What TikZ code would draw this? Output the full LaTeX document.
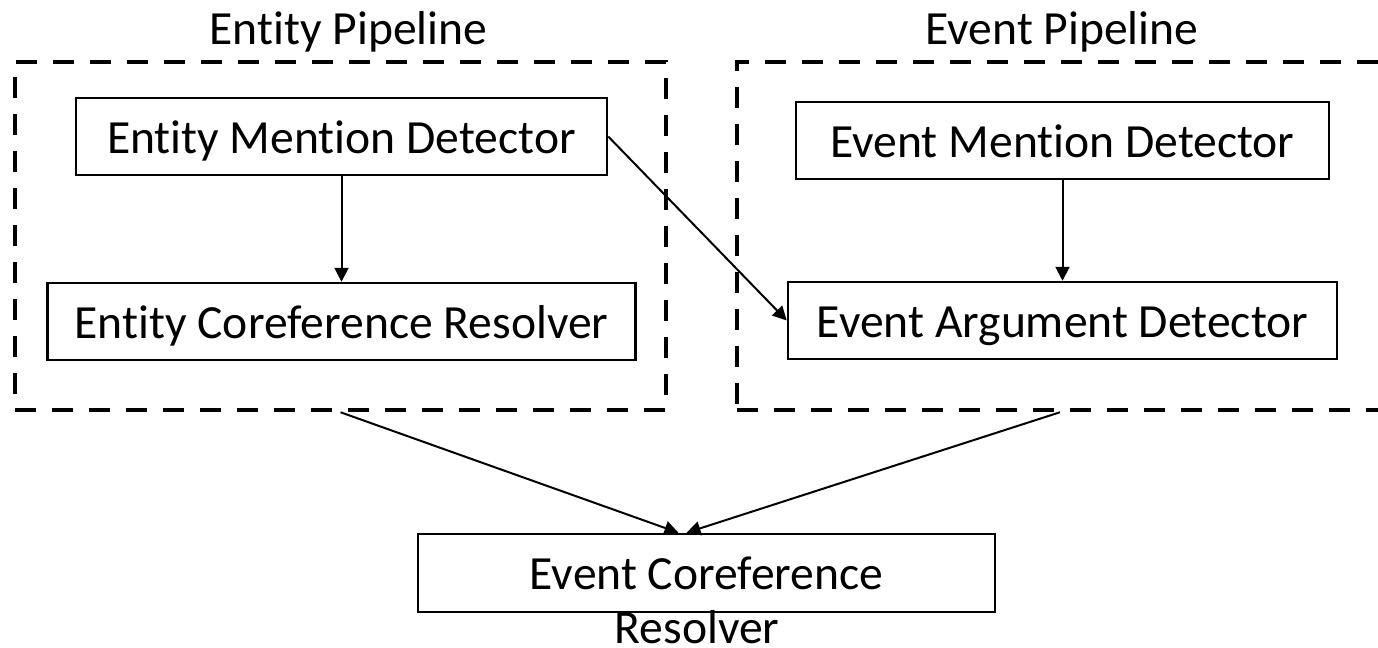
\documentclass[tikz,border=0pt]{standalone}
\usepackage{fontspec}
\setmainfont[RawFeature={-liga;-clig;-calt;-dlig}]{Carlito}
\usetikzlibrary{arrows.meta,calc}
\begin{document}
\begin{tikzpicture}[x=0.5pt,y=-0.5pt,
  every node/.style={font=\fontsize{23.8pt}{31pt}\selectfont, inner sep=0pt},
  pipebox/.style={draw, line width=2.25pt, dash pattern=on 10.5pt off 8pt, minimum height=174pt},
  stagebox/.style={draw, line width=1.25pt, minimum height=38.5pt, text height=16.5pt, text depth=0pt},
  conn/.style={line width=1pt, -{Triangle[length=7pt,width=7pt]}}
]
\path[use as bounding box, clip] (0,0) rectangle (1378,648);
% pipelines
\node[pipebox, minimum width=325.5pt] (entbox) at (340.5,236) {};
\node[pipebox, minimum width=323pt] (evbox) at (1060,236) {};
\node[anchor=base] (enttitle) at (348.5,44) {Entity Pipeline};
\node[anchor=base] (evtitle) at (1062,44) {Event Pipeline};
% stages
\node[stagebox, minimum width=265.5pt] (emd) at (341.5,136.5) {Entity Mention Detector};
\node[stagebox, minimum width=294pt] (ecr) at (341.5,321.5) {Entity Coreference Resolver};
\node[stagebox, minimum width=266.5pt] (evmd) at (1062.5,140.5) {Event Mention Detector};
\node[stagebox, minimum width=274.5pt] (ead) at (1062.5,320.5) {Event Argument Detector};
\node[stagebox, minimum width=288.5pt, minimum height=39pt] (ecoref) at (706.5,573) {Event Coreference};
\node[anchor=base, text depth=0pt] (ecoreflbl) at (697,643) {Resolver};
% connectors
\coordinate (tipL) at ($(ecoref.north)+(-28,0)$);
\coordinate (tipR) at ($(ecoref.north)+(-20,0)$);
\draw[conn] (emd.south) -- (ecr.north);
\draw[conn] (evmd.south) -- (ead.north);
\draw[conn] (emd.east) -- (ead.west);
\draw[conn] (entbox.south) -- (tipL);
\draw[conn] (evbox.south) -- (tipR);
\end{tikzpicture}
\end{document}
